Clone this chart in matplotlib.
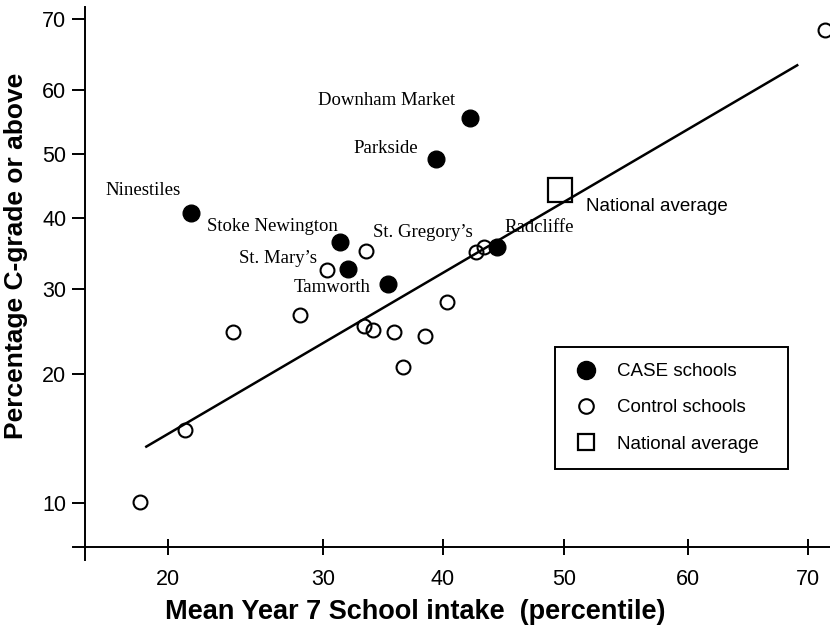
import matplotlib
matplotlib.use("Agg")
import matplotlib.pyplot as plt
from matplotlib.lines import Line2D
import numpy as np

# CASE schools (filled circles)
case_names = ["Ninestiles", "Downham Market", "Parkside", "Stoke Newington",
              "St. Mary\u2019s", "Tamworth", "Radcliffe"]
case_x = [21.5, 42.2, 39.4, 31.4, 32.1, 35.4, 44.5]
case_y = [40.8, 55.6, 49.2, 36.5, 32.7, 30.6, 35.8]

# control schools (open circles)
control_x = [18.2, 21.1, 24.2, 28.5, 30.3, 33.6, 33.4, 34.2, 35.9, 36.7, 38.5, 40.3, 42.7, 43.4, 71.4]
control_y = [10.1, 15.0, 24.6, 26.6, 32.5, 35.2, 25.3, 24.9, 24.6, 20.8, 24.1, 28.3, 35.0, 35.8, 68.6]

# national average (square)
nat_x = [49.7]
nat_y = [44.4]

# fitted line end points
fit_x = [18.6, 69.1]
fit_y = [13.7, 63.6]

x_ticks = [20, 30, 40, 50, 60, 70]
y_ticks = [10, 20, 30, 40, 50, 60, 70]

# the printed x axis is not evenly spaced: map tick values to their drawn spacing
x_knots = [10, 20, 30, 40, 50, 60, 70, 80]
x_knot_pos = [13, 168, 323, 443, 564, 688, 808, 928]


def x_fwd(v):
    return np.interp(v, x_knots, x_knot_pos)


def x_inv(p):
    return np.interp(p, x_knot_pos, x_knots)


# y axis is a logit (percentage) scale
def y_fwd(v):
    v = np.clip(np.asarray(v, dtype=float), 1e-6, 100 - 1e-6)
    return np.log(v / (100 - v))


def y_inv(t):
    return 100 / (1 + np.exp(-np.asarray(t, dtype=float)))


def y_at_px(py):
    return float(y_inv((154 - py) / 159))


sans = "Liberation Sans"
serif = "Liberation Serif"

W, H = 830, 627
fig = plt.figure(figsize=(W / 100, H / 100), dpi=100)
ax = fig.add_axes([73 / W, (H - 560) / H, (830 - 73) / W, (560 - 7) / H])
ax.set_xscale("function", functions=(x_fwd, x_inv))
ax.set_yscale("function", functions=(y_fwd, y_inv))
ax.set_xlim(float(x_inv(73)), float(x_inv(830)))
ax.set_ylim(y_at_px(560), y_at_px(7))

for s in ["top", "right"]:
    ax.spines[s].set_visible(False)
ax.spines["left"].set_position(("data", float(x_inv(85))))
ax.spines["bottom"].set_position(("data", y_at_px(547)))
for s in ["left", "bottom"]:
    ax.spines[s].set_linewidth(1.4)

ax.set_xticks(x_ticks)
ax.set_yticks(y_ticks)
ax.set_xticklabels([str(t) for t in x_ticks], fontfamily=sans, fontsize=15.5)
ax.set_yticklabels([str(t) for t in y_ticks], fontfamily=sans, fontsize=15.5)
ax.minorticks_off()
ax.tick_params(axis="y", direction="out", length=9.5, width=1.4, pad=4)
ax.tick_params(axis="x", direction="inout", length=11, width=1.4, pad=10)

ax.plot(fit_x, fit_y, color="black", lw=1.8, zorder=2)
ax.plot(control_x, control_y, "o", ms=10, mfc="none", mec="black", mew=1.5, zorder=3)
ax.plot(case_x, case_y, "o", ms=12, mfc="black", mec="black", zorder=4)
ax.plot(nat_x, nat_y, "s", ms=17, mfc="none", mec="black", mew=1.6, zorder=3)

# label offsets in pixels (left edge, baseline) from their points
case_offsets = [(-86, 18), (-152, 13), (-82, 6), (-133, 11), (-109, 6), (-94, -8), (7, 15)]
for name, x, y, off in zip(case_names, case_x, case_y, case_offsets):
    ax.annotate(name, (x, y), xytext=off, textcoords="offset pixels",
                ha="left", va="baseline", fontfamily=serif, fontsize=13.5)
ax.annotate("St. Gregory\u2019s", (control_x[5], control_y[5]), xytext=(7, 14),
            textcoords="offset pixels", ha="left", va="baseline",
            fontfamily=serif, fontsize=13.5)
ax.annotate("National average", (nat_x[0], nat_y[0]), xytext=(26, -21),
            textcoords="offset pixels", ha="left", va="baseline",
            fontfamily=sans, fontsize=13.5)

ax.set_xlabel("Mean Year 7 School intake  (percentile)", fontfamily=sans,
              fontweight="bold", fontsize=19.5)
ax.xaxis.set_label_coords((415 - 73) / 757, -0.07)
ax.set_ylabel("Percentage C-grade or above", fontfamily=sans,
              fontweight="bold", fontsize=19)
ax.yaxis.set_label_coords(-0.06, (560 - 256) / 553)

handles = [
    Line2D([], [], ls="none", marker="o", ms=13, mfc="black", mec="black"),
    Line2D([], [], ls="none", marker="o", ms=10.5, mfc="none", mec="black", mew=1.5),
    Line2D([], [], ls="none", marker="s", ms=11.5, mfc="none", mec="black", mew=1.6),
]
leg = ax.legend(handles, ["CASE schools", "Control schools", "National average"],
                loc="upper left", bbox_to_anchor=(555 / W, 1 - 467 / H, 233 / W, 120 / H),
                bbox_transform=fig.transFigure, mode="expand", borderaxespad=0,
                frameon=True, fancybox=False, edgecolor="black", framealpha=1,
                borderpad=0.85, labelspacing=1.03, handlelength=1.6, handletextpad=0.85,
                prop={"family": sans, "size": 13.5})
leg.get_frame().set_linewidth(1.4)

fig.savefig("out.png", dpi=100)
